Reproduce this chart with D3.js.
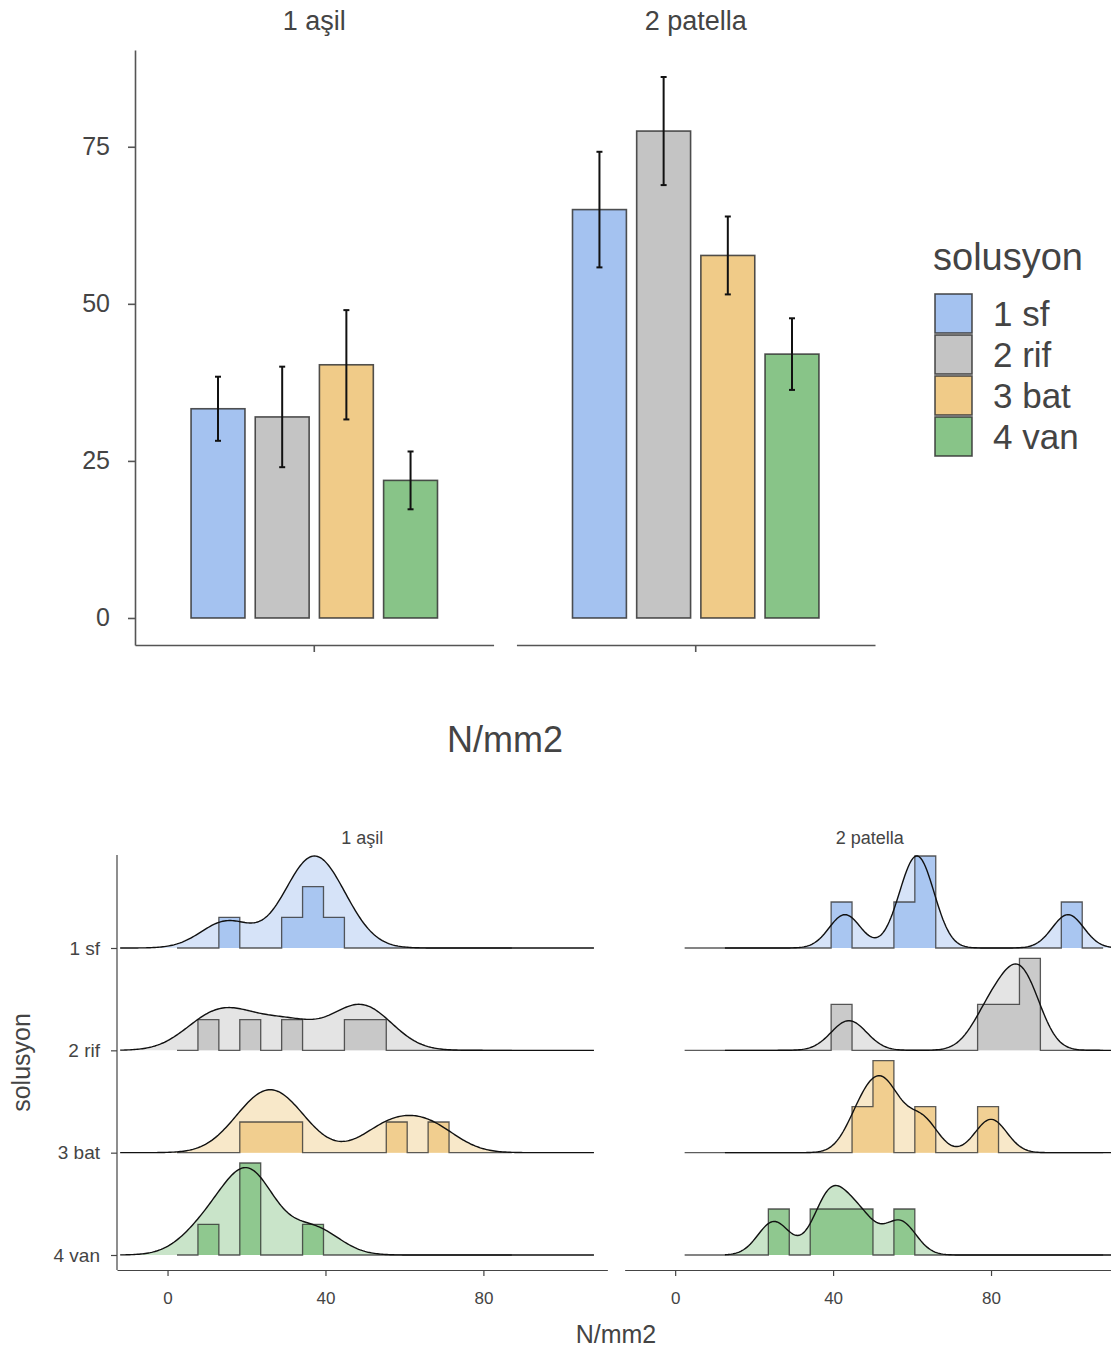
<!DOCTYPE html>
<html>
<head>
<meta charset="utf-8">
<script src="https://cdn.jsdelivr.net/npm/d3@7"></script>
<style>
  body { margin: 0; background: #fff; }
  text { font-family: "Liberation Sans", Arial, sans-serif; }
</style>
</head>
<body>
<svg id="chart" width="1111" height="1354"></svg>
<script>
const tendons = ['1 aşil', '2 patella'];
const solutions = ['1 sf', '2 rif', '3 bat', '4 van'];
const colors = ['#a4c2f0', '#c4c4c4', '#f0cb88', '#88c488'];

// mean N/mm2 and standard error, per tendon, in solution order
const meanAsil = [33.3, 32.0, 40.3, 21.9];
const seAsil = [5.1, 8.0, 8.7, 4.6];
const meanPatella = [65.0, 77.5, 57.7, 42.0];
const sePatella = [9.2, 8.6, 6.2, 5.7];
const yTicks = [0, 25, 50, 75];

const obsAsil = [
  [15, 33, 36, 38, 43],
  [10, 18.5, 31, 46, 52],
  [21, 26, 31, 56, 66.5],
  [10, 19.5, 20.5, 22, 37]
];
const obsPatella = [
  [43, 59, 61.5, 63, 99.5],
  [44, 79, 84, 88, 89],
  [47, 51.5, 54.5, 62.5, 80],
  [25, 38, 41, 47, 57]
];
// kernel bandwidths of the density curves
const bwAsil = [6.5, 7, 7, 6.5];
const bwPatella = [4, 4.5, 4, 4];
const xTicks = [0, 40, 80];

const svg = d3.select('#chart');
const fill = d3.scaleOrdinal().domain(solutions).range(colors);
const textColor = '#444';

// ---------- top: mean bars with SE ----------
function drawBars() {
  const box = { left: 135, right: 875, top: 50, bottom: 645 };
  const panelX = d3.scaleBand().domain(tendons).range([box.left, box.right]).paddingInner(0.06);
  const y = d3.scaleLinear().domain([-4.3, 90.4]).range([box.bottom, box.top]);
  const means = [meanAsil, meanPatella];
  const ses = [seAsil, sePatella];
  const w = panelX.bandwidth();

  tendons.forEach((t, ti) => {
    const g = svg.append('g').attr('transform', `translate(${panelX(t)},0)`);
    const xBar = d3.scaleBand()
      .domain(solutions)
      .range([w / 2 - w * 0.358, w / 2 + w * 0.358])
      .paddingInner(0.16)
      .paddingOuter(0.08);
    const rows = solutions.map((s, i) => ({ s, m: means[ti][i], se: ses[ti][i] }));

    g.selectAll('rect.bar').data(rows).join('rect')
      .attr('class', 'bar')
      .attr('x', d => xBar(d.s))
      .attr('y', d => y(d.m))
      .attr('width', xBar.bandwidth())
      .attr('height', d => y(0) - y(d.m))
      .attr('fill', d => fill(d.s))
      .attr('stroke', '#333')
      .attr('stroke-opacity', 0.85)
      .attr('stroke-width', 1.6);

    const eb = g.selectAll('g.err').data(rows).join('g')
      .attr('class', 'err')
      .attr('transform', d => `translate(${xBar(d.s) + xBar.bandwidth() / 2},0)`)
      .attr('stroke', '#111')
      .attr('stroke-width', 2);
    eb.append('line').attr('y1', d => y(d.m - d.se)).attr('y2', d => y(d.m + d.se));
    eb.append('line').attr('x1', -3).attr('x2', 3).attr('y1', d => y(d.m - d.se)).attr('y2', d => y(d.m - d.se));
    eb.append('line').attr('x1', -3).attr('x2', 3).attr('y1', d => y(d.m + d.se)).attr('y2', d => y(d.m + d.se));

    // panel x axis: a single unlabelled tick in the middle
    g.append('g')
      .attr('transform', `translate(0,${box.bottom})`)
      .call(d3.axisBottom(d3.scaleBand().domain([t]).range([0, w])).tickSize(7).tickSizeOuter(0).tickFormat(''))
      .call(a => a.selectAll('path, line').attr('stroke', '#555').attr('stroke-width', 1.6));

    g.append('text')
      .attr('x', w / 2).attr('y', 30)
      .attr('text-anchor', 'middle')
      .attr('font-size', 27)
      .attr('fill', textColor)
      .text(t);
  });

  svg.append('g')
    .attr('transform', `translate(${box.left},0)`)
    .call(d3.axisLeft(y).tickValues(yTicks).tickSize(7).tickPadding(18).tickSizeOuter(0))
    .call(a => a.selectAll('path, line').attr('stroke', '#555').attr('stroke-width', 1.6))
    .call(a => a.selectAll('text').attr('font-size', 25).attr('fill', textColor).attr('font-family', null));

  svg.append('text')
    .attr('x', (box.left + box.right) / 2).attr('y', 752)
    .attr('text-anchor', 'middle')
    .attr('font-size', 36)
    .attr('fill', textColor)
    .text('N/mm2');
}

function drawLegend() {
  const g = svg.append('g').attr('transform', 'translate(933,0)');
  g.append('text').attr('x', 0).attr('y', 270).attr('font-size', 38).attr('fill', textColor).text('solusyon');
  const key = d3.scaleBand().domain(solutions).range([293, 457]);
  const items = g.selectAll('g.key').data(solutions).join('g').attr('class', 'key');
  items.append('rect')
    .attr('x', 2).attr('y', d => key(d) + 1)
    .attr('width', 37).attr('height', key.bandwidth() - 2)
    .attr('fill', d => fill(d))
    .attr('stroke', '#333').attr('stroke-opacity', 0.85).attr('stroke-width', 1.6);
  items.append('text')
    .attr('x', 60).attr('y', d => key(d) + key.bandwidth() / 2)
    .attr('dy', '0.36em')
    .attr('font-size', 35)
    .attr('fill', textColor)
    .text(d => d);
}

// ---------- bottom: ridgelines of histogram + density ----------
function kde(values, bw, xs) {
  const k = 1 / (values.length * bw * Math.sqrt(2 * Math.PI));
  return xs.map(x => [x, k * d3.sum(values, v => Math.exp(-0.5 * ((x - v) / bw) ** 2))]);
}

function drawRidges() {
  const box = { left: 117, right: 1115, top: 855, bottom: 1270 };
  const panelX = d3.scaleBand().domain(tendons).range([box.left, box.right]).paddingInner(0.034);
  const row = d3.scalePoint().domain(solutions).range([948, 1255]);
  const ridgeHeight = 92;
  const binEdges = d3.range(21).map(i => 2.4 + i * 5.3);
  const binsPerPanel = [16, 20];
  const densityRange = [[-12, 108], [12.6, 113]];
  const obs = [obsAsil, obsPatella];
  const bws = [bwAsil, bwPatella];

  tendons.forEach((t, ti) => {
    const x = d3.scaleLinear().domain([-12.8, 111.4]).range([panelX(t), panelX(t) + panelX.bandwidth()]);
    const grid = d3.range(densityRange[ti][0], densityRange[ti][1] + 0.001, 0.4);
    const edges = binEdges.slice(0, binsPerPanel[ti] + 1);
    const binner = d3.bin().domain([edges[0], edges[edges.length - 1]]).thresholds(edges.slice(1, -1));

    const groups = solutions.map((s, i) => ({
      s,
      dens: kde(obs[ti][i], bws[ti][i], grid),
      bins: binner(obs[ti][i])
    }));
    const hD = d3.scaleLinear()
      .domain([0, d3.max(groups, g => d3.max(g.dens, d => d[1]))])
      .range([0, ridgeHeight]);
    const hC = d3.scaleLinear()
      .domain([0, d3.max(groups, g => d3.max(g.bins, b => b.length))])
      .range([0, ridgeHeight]);

    groups.forEach(gr => {
      const base = row(gr.s);
      const g = svg.append('g');
      const densArea = d3.area().x(d => x(d[0])).y0(base).y1(d => base - hD(d[1]));
      const densLine = d3.line().x(d => x(d[0])).y(d => base - hD(d[1]));

      const steps = [[gr.bins[0].x0, 0]];
      gr.bins.forEach(b => steps.push([b.x0, b.length], [b.x1, b.length]));
      steps.push([gr.bins[gr.bins.length - 1].x1, 0]);
      const histArea = d3.area().x(d => x(d[0])).y0(base).y1(d => base - hC(d[1]));
      const histLine = d3.line().x(d => x(d[0])).y(d => base - hC(d[1]));

      g.append('path').attr('d', densArea(gr.dens))
        .attr('fill', fill(gr.s)).attr('fill-opacity', 0.45);
      g.append('path').attr('d', histArea(steps))
        .attr('fill', fill(gr.s)).attr('fill-opacity', 0.9);
      g.append('path').attr('d', histLine(steps))
        .attr('fill', 'none').attr('stroke', '#333').attr('stroke-opacity', 0.8).attr('stroke-width', 1.3);
      g.append('path').attr('d', densLine(gr.dens))
        .attr('fill', 'none').attr('stroke', '#111').attr('stroke-width', 1.4);
    });

    svg.append('g')
      .attr('transform', `translate(0,${box.bottom})`)
      .call(d3.axisBottom(x).tickValues(xTicks).tickSize(6).tickSizeOuter(0).tickPadding(16))
      .call(a => a.selectAll('path, line').attr('stroke', '#444').attr('stroke-width', 1.2))
      .call(a => a.selectAll('text').attr('font-size', 17).attr('fill', textColor).attr('font-family', null));

    svg.append('text')
      .attr('x', panelX(t) + panelX.bandwidth() / 2).attr('y', 844)
      .attr('text-anchor', 'middle')
      .attr('font-size', 18)
      .attr('fill', textColor)
      .text(t);
  });

  svg.append('g')
    .attr('transform', `translate(${box.left},0)`)
    .call(d3.axisLeft(row).tickSize(6).tickSizeOuter(0).tickPadding(11))
    .call(a => a.select('.domain').remove())
    .call(a => a.selectAll('line').attr('stroke', '#444').attr('stroke-width', 1.2))
    .call(a => a.selectAll('text').attr('font-size', 19).attr('fill', textColor).attr('font-family', null));
  svg.append('line')
    .attr('x1', box.left).attr('x2', box.left)
    .attr('y1', box.top).attr('y2', box.bottom)
    .attr('stroke', '#444').attr('stroke-width', 1.2);

  svg.append('text')
    .attr('x', (box.left + box.right) / 2).attr('y', 1343)
    .attr('text-anchor', 'middle')
    .attr('font-size', 25)
    .attr('fill', textColor)
    .text('N/mm2');
  svg.append('text')
    .attr('transform', `translate(30,${(box.top + box.bottom) / 2}) rotate(-90)`)
    .attr('text-anchor', 'middle')
    .attr('font-size', 25)
    .attr('fill', textColor)
    .text('solusyon');
}

drawBars();
drawLegend();
drawRidges();
</script>
</body>
</html>
